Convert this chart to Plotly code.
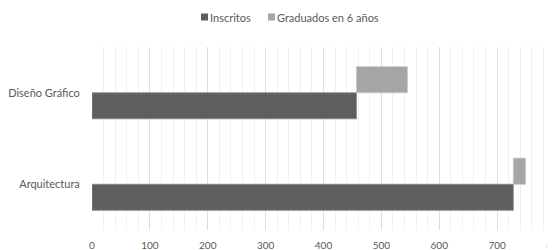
import plotly.graph_objects as go

categories = ["Arquitectura", "Diseño Gráfico"]
inscritos = [728, 457]
graduados = [21, 88]
x_ticks = [0, 100, 200, 300, 400, 500, 600, 700, 800]
series_names = ["Inscritos", "Graduados en 6 años"]
series_colors = ["#5e5e60", "#a5a5a7"]
border_colors = ["#8a8a8a", "#c4c4c4"]

font_family = "Lato, 'Open Sans', sans-serif"
text_color = "#595959"

# The page body has an 8px margin, so the figure is drawn offset by 8px.
OFF = 8
W, H = 555 - OFF, 250 - OFF
ML, MR, MT, MB = 92 - OFF, 0, 47 - OFF, 20
PW = W - ML - MR
PH = H - MT - MB


def px_to_paper_x(px):
    # px: screen pixel
    return (px - OFF - ML) / PW


def px_to_paper_y(py):
    return (H - MB - (py - OFF)) / PH


fig = go.Figure()
fig.add_trace(go.Bar(
    y=categories, x=inscritos, orientation="h", name=series_names[0],
    marker=dict(color=series_colors[0], line=dict(color=border_colors[0], width=0.8)),
    showlegend=False,
))
fig.add_trace(go.Bar(
    y=categories, x=graduados, base=inscritos, orientation="h",
    name=series_names[1],
    marker=dict(color=series_colors[1], line=dict(color=border_colors[1], width=0.8)),
    showlegend=False,
))

# Custom legend (small squares + text), centered above the chart
legend_items = [(201, 209), (268, 276)]  # (marker left px, text left px) on screen
for (mx, tx), name, col in zip(legend_items, series_names, series_colors):
    fig.add_shape(
        type="rect", xref="paper", yref="paper",
        x0=px_to_paper_x(mx), x1=px_to_paper_x(mx + 7),
        y0=px_to_paper_y(20.5), y1=px_to_paper_y(13.5),
        fillcolor=col, line=dict(width=0),
    )
    fig.add_annotation(
        xref="paper", yref="paper", x=px_to_paper_x(tx - 1), y=px_to_paper_y(17),
        xanchor="left", yanchor="middle", text=name, showarrow=False,
        font=dict(size=11, color=text_color, family=font_family),
    )

fig.update_layout(
    width=W, height=H,
    margin=dict(l=ML, r=MR, t=MT, b=MB),
    barmode="group", bargap=0.43, bargroupgap=0,
    plot_bgcolor="white", paper_bgcolor="white",
    font=dict(family=font_family, size=10, color=text_color),
    showlegend=False,
)
fig.update_xaxes(
    range=[0, 800], tickvals=x_ticks, ticktext=[str(v) for v in x_ticks],
    showgrid=True, gridcolor="#dedede", gridwidth=1,
    minor=dict(dtick=20, showgrid=True, gridcolor="#f1f1f1", gridwidth=1),
    zeroline=False, showline=False,
    ticks="outside", ticklen=6, tickcolor="rgba(0,0,0,0)",
    ticklabeloverflow="allow", automargin=False,
    tickfont=dict(size=10, color=text_color),
)
fig.update_yaxes(
    showgrid=False, zeroline=False, showline=False,
    ticks="outside", ticklen=9, tickcolor="rgba(0,0,0,0)",
    automargin=False,
    tickfont=dict(size=11, color=text_color),
)

fig.write_html("out.html")
